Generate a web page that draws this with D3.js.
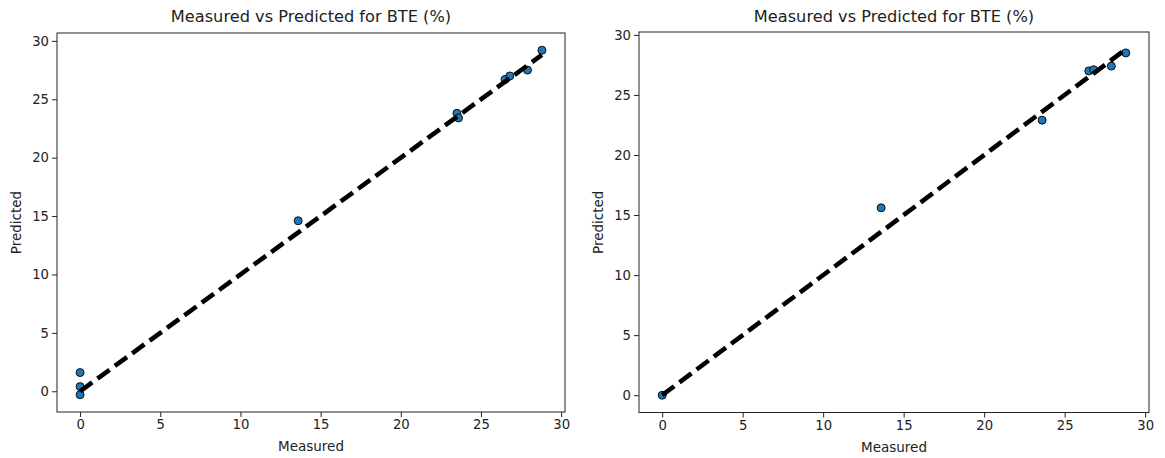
<!DOCTYPE html>
<html>
<head>
<meta charset="utf-8">
<script src="https://cdn.jsdelivr.net/npm/d3@7"></script>
<style>
  body { margin: 0; background: #fff; }
  svg { display: block; font-family: "DejaVu Sans", sans-serif; }
</style>
</head>
<body>
<div id="plot-area"><svg></svg></div>
<script>
// data
const titleText = 'Measured vs Predicted for BTE (%)';
const tickValues = [0, 5, 10, 15, 20, 25, 30];

// left panel
const leftMeasured = [0, 0, 0, 13.6, 23.5, 23.6, 26.5, 26.8, 27.9, 28.8];
const leftPredicted = [1.6, 0.4, -0.3, 14.6, 23.8, 23.4, 26.7, 27.0, 27.5, 29.2];

// right panel
const rightMeasured = [0, 13.6, 23.6, 26.5, 26.8, 27.9, 28.8];
const rightPredicted = [0, 15.6, 22.9, 27.0, 27.1, 27.4, 28.5];

const pointBlue = '#1f77b4';

const svg = d3.select('#plot-area').select('svg')
    .attr('width', 1165)
    .attr('height', 458);

function drawPanel(measured, predicted, box) {
    const pts = measured.map(function (m, i) {
        return {xValue: m, yValue: predicted[i]};
    });

    // ideal line goes from min to max of measured
    const lo = d3.min(measured), hi = d3.max(measured);
    const ideal = [{xValue: lo, yValue: lo}, {xValue: hi, yValue: hi}];

    // matplotlib style 5% margins
    const xAll = measured.concat([lo, hi]);
    const yAll = predicted.concat([lo, hi]);
    const xExt = d3.extent(xAll), yExt = d3.extent(yAll);
    const xPad = (xExt[1] - xExt[0]) * 0.05;
    const yPad = (yExt[1] - yExt[0]) * 0.05;

    const width = box.right - box.left,
        height = box.bottom - box.top;

    let x = d3.scaleLinear()
        .domain([xExt[0] - xPad, xExt[1] + xPad])
        .range([0, width]);
    let y = d3.scaleLinear()
        .domain([yExt[0] - yPad, yExt[1] + yPad])
        .range([height, 0]);

    let g = svg.append('g')
        .attr('transform', 'translate(' + box.left + ',' + box.top + ')');

    // points
    g.selectAll('.dot')
        .data(pts)
        .enter().append('circle')
        .attr('class', 'dot')
        .attr('cx', function (d) { return x(d.xValue); })
        .attr('cy', function (d) { return y(d.yValue); })
        .attr('r', 4)
        .style('fill', pointBlue)
        .style('stroke', '#000')
        .style('stroke-width', 0.9);

    // dashed ideal line, drawn above points
    const valueline = d3.line()
        .x(function (d) { return x(d.xValue); })
        .y(function (d) { return y(d.yValue); });

    g.append('path')
        .datum(ideal)
        .attr('d', valueline)
        .style('fill', 'none')
        .style('stroke', '#000')
        .style('stroke-width', 4.6)
        .style('stroke-dasharray', '15,6.5');

    // axes
    let xAxis = g.append('g')
        .attr('transform', 'translate(0,' + height + ')')
        .call(d3.axisBottom(x)
            .tickValues(tickValues)
            .tickSizeInner(5)
            .tickSizeOuter(0)
            .tickPadding(3)
            .tickFormat(d3.format('d')));

    let yAxis = g.append('g')
        .call(d3.axisLeft(y)
            .tickValues(tickValues)
            .tickSizeInner(5)
            .tickSizeOuter(0)
            .tickPadding(3)
            .tickFormat(d3.format('d')));

    [xAxis, yAxis].forEach(function (a) {
        a.select('.domain').remove();
        a.selectAll('line').style('stroke', '#222').style('stroke-width', 1);
        a.selectAll('text')
            .style('font-family', '"DejaVu Sans", sans-serif')
            .style('font-size', '13.2px')
            .style('fill', '#222');
    });

    // frame
    g.append('rect')
        .attr('x', 0)
        .attr('y', 0)
        .attr('width', width)
        .attr('height', height)
        .style('fill', 'none')
        .style('stroke', '#222')
        .style('stroke-width', 1);

    // labelling
    g.append('text')
        .attr('x', width / 2)
        .attr('y', -box.top + 22)
        .attr('text-anchor', 'middle')
        .style('font-size', '16.2px')
        .style('fill', '#222')
        .text(titleText);

    g.append('text')
        .attr('x', width / 2)
        .attr('y', height + 39)
        .attr('text-anchor', 'middle')
        .style('font-size', '13.5px')
        .style('fill', '#222')
        .text('Measured');

    g.append('text')
        .attr('transform', 'translate(' + box.ylab + ',' + (height / 2) + ') rotate(-90)')
        .attr('text-anchor', 'middle')
        .style('font-size', '13.5px')
        .style('fill', '#222')
        .text('Predicted');
}

drawPanel(leftMeasured, leftPredicted, {left: 57, right: 565, top: 33, bottom: 412, ylab: -36});
drawPanel(rightMeasured, rightPredicted, {left: 639, right: 1149, top: 32, bottom: 412.5, ylab: -36});
</script>
</body>
</html>
